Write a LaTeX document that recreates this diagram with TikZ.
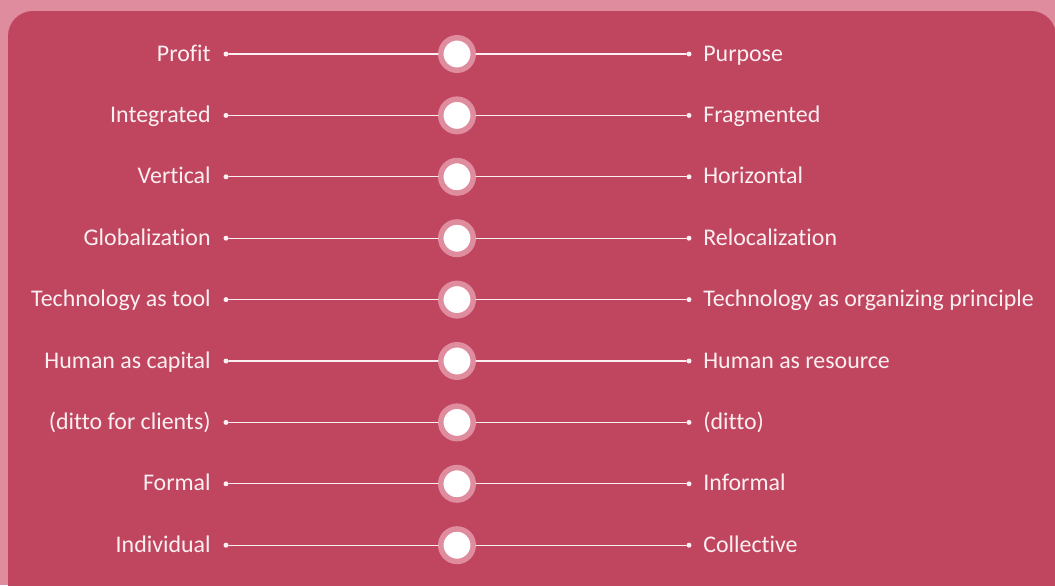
\documentclass[tikz,border=0pt]{standalone}
\usepackage{fontspec}
\setmainfont[Ligatures={NoCommon,NoContextual}]{Carlito}
\usetikzlibrary{positioning}

\definecolor{panel}{HTML}{C0455F}
\definecolor{rim}{HTML}{E08C9F}
\definecolor{ink}{HTML}{FBEFF2}

\tikzset{
  lbl/.style={text=ink, font=\fontsize{13.6}{15}\selectfont, inner sep=0pt},
  knob/.style={circle, fill=white, draw=rim, line width=5.5*0.02cm, minimum size=32.5*0.02cm, inner sep=0pt},
  tip/.style={circle, fill=ink, minimum size=5*0.02cm, inner sep=0pt},
  bar/.style={ink, line width=1.3*0.02cm},
}

\begin{document}
\begin{tikzpicture}[x=0.02cm, y=-0.02cm, line cap=round]
    % --- fondo y panel
    \fill[rim] (0,0) rectangle (1055,585);
    \useasboundingbox (0,0) rectangle (1055,585);
    \fill[panel, rounded corners=25*0.02cm] (8,11) rectangle (1056,610);
    % --- un deslizador por fila: extremo izquierdo, mando, extremo derecho
    \foreach \l/\r [count=\i] in {Profit/Purpose, Integrated/Fragmented,
        Vertical/Horizontal, Globalization/Relocalization,
        {Technology as tool}/{Technology as organizing principle},
        {Human as capital}/{Human as resource},
        {(ditto for clients)}/{(ditto)}, Formal/Informal,
        Individual/Collective}{
      \pgfmathsetmacro{\y}{54+(\i-1)*61.4}
      \node[tip] (dl\i) at (226,\y) {};
      \node[tip] (dr\i) at (689,\y) {};
      \node[knob] (k\i) at (457,\y) {};
      \draw[bar] (dl\i) -- (k\i);
      \draw[bar] (k\i) -- (dr\i);
      \node[lbl, anchor=base east] (l\i) at (211,\y+7) {\l};
      \node[lbl, anchor=base west] (r\i) at (703,\y+7) {\r};
    }
\end{tikzpicture}
\end{document}
